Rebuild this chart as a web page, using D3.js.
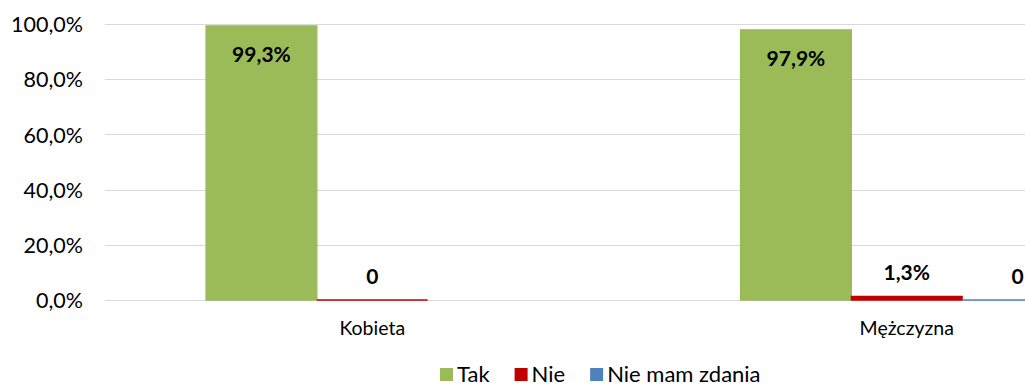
<!DOCTYPE html>
<html>
<head>
<meta charset="utf-8">
<script src="https://cdn.jsdelivr.net/npm/d3@7"></script>
<style>
  html, body { margin: 0; padding: 0; background: #fff; overflow: hidden; }
  svg { display: block; }
  text { font-family: Lato, "Open Sans", "Liberation Sans", sans-serif; fill: #000; }
</style>
</head>
<body>
<svg id="chart" width="1025" height="387"></svg>
<script>
// Survey answers by gender (share of respondents)
const categories = ["Kobieta", "Mężczyzna"];
const seriesNames = ["Tak", "Nie", "Nie mam zdania"];
const takValues = [0.993, 0.979];
const nieValues = [0, 0.013];
const brakValues = [null, 0];
const yTicks = [0, 0.2, 0.4, 0.6, 0.8, 1.0];

const seriesValues = [takValues, nieValues, brakValues];
const colors = { "Tak": "#9BBB59", "Nie": "#C00000", "Nie mam zdania": "#4F81BD" };

const pl = d3.formatLocale({ decimal: ",", thousands: " ", grouping: [3], currency: ["", " zł"] });
const pct = pl.format(".1%");
const labelText = v => v === 0 ? "0" : pct(v);

const svg = d3.select("#chart");

const plotLeft = 105, plotRight = 1174, plotTop = 24, plotBottom = 300;

const x = d3.scaleBand().domain(categories).range([plotLeft, plotRight]).padding(0);
const xs = d3.scaleBand().domain(seriesNames).range([0, x.bandwidth()])
  .paddingInner(0).paddingOuter(0.912);
const y = d3.scaleLinear().domain([0, 1]).range([plotBottom, plotTop]);

// Gridlines
svg.append("g").selectAll("line").data(yTicks).join("line")
  .attr("x1", plotLeft).attr("x2", plotRight)
  .attr("y1", d => Math.round(y(d)) + 0.5).attr("y2", d => Math.round(y(d)) + 0.5)
  .attr("stroke", "#D9D9D9").attr("stroke-width", 1);

// Y axis labels
const yAxis = d3.axisLeft(y).tickValues(yTicks).tickFormat(pct).tickSize(0).tickPadding(0);
const yG = svg.append("g").attr("transform", `translate(${plotLeft - 22},0)`).call(yAxis);
yG.select(".domain").remove();
yG.selectAll("text").attr("font-size", 21.5).attr("dy", "0.36em")
  .style("font-family", "Lato, 'Open Sans', sans-serif").attr("fill", "#000");

// X axis labels
const xAxis = d3.axisBottom(x).tickSize(0).tickPadding(0);
const xG = svg.append("g").attr("transform", `translate(0,${plotBottom + 35})`).call(xAxis);
xG.select(".domain").remove();
xG.selectAll("text").attr("font-size", 19.5).attr("dy", 0)
  .style("font-family", "Lato, 'Open Sans', sans-serif").attr("fill", "#000");

// Bars
const rows = [];
categories.forEach((c, i) => {
  seriesNames.forEach((s, j) => {
    const v = seriesValues[j][i];
    if (v !== null && v !== undefined) rows.push({ cat: c, series: s, value: v });
  });
});

// Bars drawn as closed paths with a thin outline so zero values still show as a line
const barPath = d => {
  const x0 = x(d.cat) + xs(d.series), x1 = x0 + xs.bandwidth();
  const y0 = y(0), y1 = y(d.value);
  return `M${x0},${y0}H${x1}V${y1}H${x0}Z`;
};
svg.append("g").selectAll("path").data(rows).join("path")
  .attr("d", barPath)
  .attr("fill", d => colors[d.series])
  .attr("stroke", d => colors[d.series])
  .attr("stroke-width", 1.3);

// Data labels: inside end for "Tak", outside end for the rest
svg.append("g").selectAll("text").data(rows).join("text")
  .attr("x", d => x(d.cat) + xs(d.series) + xs.bandwidth() / 2)
  .attr("y", d => d.series === "Tak" ? y(d.value) + 36 : y(d.value) - 16)
  .attr("text-anchor", "middle")
  .attr("font-size", 21)
  .attr("font-weight", "bold")
  .text(d => labelText(d.value));

// Legend
const legend = svg.append("g").attr("transform", "translate(440,368)");
let lx = 0;
seriesNames.forEach(s => {
  const g = legend.append("g").attr("transform", `translate(${lx},0)`);
  g.append("rect").attr("width", 13).attr("height", 13).attr("fill", colors[s]);
  const t = g.append("text").attr("x", 17).attr("y", 13.5)
    .attr("font-size", 22).text(s);
  lx += 17 + t.node().getComputedTextLength() + 25;
});
</script>
</body>
</html>
